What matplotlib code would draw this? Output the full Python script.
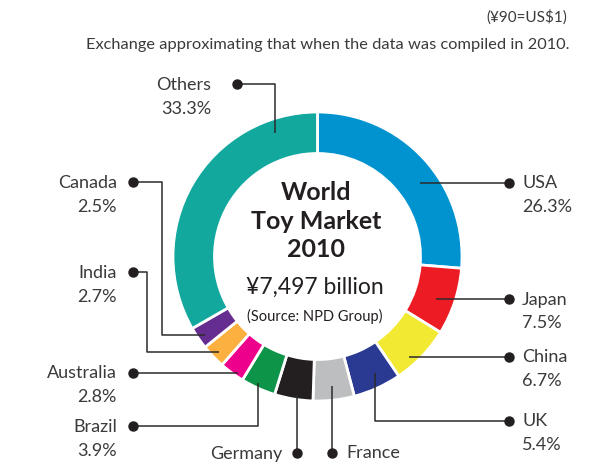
"""World toy market 2010 donut chart with elbow leader labels."""
import matplotlib

matplotlib.use("Agg")
import matplotlib.pyplot as plt
import numpy as np

W, H = 598, 470

COUNTRIES = ["USA", "Japan", "China", "UK", "France", "Germany",
             "Brazil", "Australia", "India", "Canada", "Others"]
SHARES = [26.3, 7.5, 6.7, 5.4, 4.6, 4.3, 3.9, 2.8, 2.7, 2.5, 33.3]
PCT_LABELS = ["26.3%", "7.5%", "6.7%", "5.4%", None, None,
              "3.9%", "2.8%", "2.7%", "2.5%", "33.3%"]
COLORS = ["#0093d0", "#ed1c24", "#f2e932", "#2a3a92", "#bcbec0", "#231f20",
          "#0d9448", "#ec008c", "#fbb040", "#662d91", "#12a89d"]

CENTER_LINES = ["World", "Toy Market", "2010"]
CENTER_TOTAL = "\u00a57,497 billion"
CENTER_SOURCE = "(Source: NPD Group)"
NOTE_RATE = "(\u00a590=US$1)"
NOTE_TEXT = "Exchange approximating that when the data was compiled in 2010."

# donut geometry in pixels
CX, CY = 317.5, 256.5
R_OUT, R_IN = 144.5, 103.0

# leader layout: dot position, text side, elbow points, final segment
# direction ('h' or 'v') and the radius at which the line ends
LEADERS = {
    "USA":       ((509, 183), "right", [], "h", 126),
    "Japan":     ((509, 299), "right", [], "h", 126),
    "China":     ((509, 357), "right", [], "h", 136),
    "UK":        ((509, 421), "right", [(375, 421)], "v", 130),
    "France":    ((332, 453), "below_r", [], "v", 130),
    "Germany":   ((297, 453), "below_l", [], "v", 140),
    "Brazil":    ((133, 426), "left", [(258, 426)], "v", 140),
    "Australia": ((133, 373), "left", [], "h", 141),
    "India":     ((133, 272), "left", [(147, 272), (147, 352)], "h", 137),
    "Canada":    ((133, 182), "left", [(162, 182), (162, 335)], "h", 137),
    "Others":    ((237, 84), "left_far", [(275, 84)], "v", 131),
}

TEXT_COLOR = "#3a3a3a"
plt.rcParams["font.family"] = ["Lato", "DejaVu Sans"]


def end_point(last, kind, r):
    x0, y0 = last
    if kind == "h":
        dx = np.sqrt(max(r ** 2 - (y0 - CY) ** 2, 0.0))
        return (CX + dx if x0 > CX else CX - dx, y0)
    dy = np.sqrt(max(r ** 2 - (x0 - CX) ** 2, 0.0))
    return (x0, CY + dy if y0 > CY else CY - dy)


fig = plt.figure(figsize=(W / 100, H / 100), dpi=100)
ax = fig.add_axes([0, 0, 1, 1])

# y axis is inverted, so counterclock=True draws clockwise on screen
ax.pie(SHARES, colors=COLORS, radius=R_OUT, center=(CX, CY),
       startangle=-90, counterclock=True,
       wedgeprops=dict(width=R_OUT - R_IN, edgecolor="white", linewidth=2))
ax.set_xlim(0, W)
ax.set_ylim(H, 0)
ax.set_aspect("equal")
ax.axis("off")

for name, pct in zip(COUNTRIES, PCT_LABELS):
    (dx, dy), side, elbows, kind, r_end = LEADERS[name]
    pts = [(dx, dy)] + elbows
    pts.append(end_point(pts[-1], kind, r_end))
    xs, ys = zip(*pts)
    ax.plot(xs, ys, color="#2b2b2b", lw=1.1, solid_capstyle="butt", zorder=3)
    ax.plot(dx, dy, "o", color="#231f20", ms=6.5, zorder=4)

    if side == "right":
        tx, ha = dx + 13, "left"
    elif side == "left":
        tx, ha = dx - 16, "right"
    elif side == "left_far":
        tx, ha = dx - 26, "right"
    elif side == "below_l":
        tx, ha = dx - 15, "right"
    else:
        tx, ha = dx + 14, "left"
    ax.text(tx, dy + 5.5, name, ha=ha, va="baseline", fontsize=13,
            color=TEXT_COLOR)
    if pct:
        ax.text(tx, dy + 29.5, pct, ha=ha, va="baseline", fontsize=13,
                color=TEXT_COLOR)

# centre text
for line, yb in zip(CENTER_LINES, (200, 229, 257)):
    ax.text(316, yb, line, ha="center", va="baseline", fontsize=18,
            fontweight="bold", color="#231f20")
ax.text(315, 294, CENTER_TOTAL, ha="center", va="baseline", fontsize=16.5,
        color="#231f20")
ax.text(315, 321, CENTER_SOURCE, ha="center", va="baseline", fontsize=10.5,
        color="#231f20")

# exchange note
ax.text(567, 22, NOTE_RATE, ha="right", va="baseline", fontsize=11,
        color=TEXT_COLOR)
ax.text(569, 49, NOTE_TEXT, ha="right", va="baseline", fontsize=11.8,
        color=TEXT_COLOR)

fig.savefig("out.png", dpi=100, facecolor="white")
